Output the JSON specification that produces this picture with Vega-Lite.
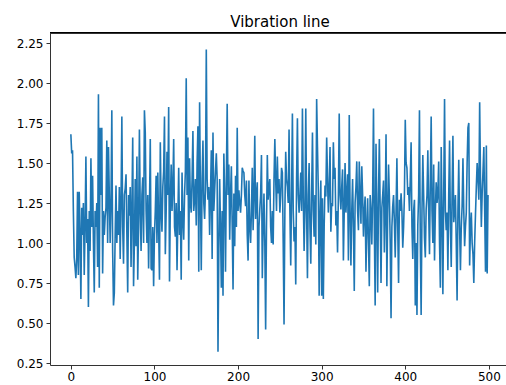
{
  "$schema": "https://vega.github.io/schema/vega-lite/v6.json",
  "width": 456,
  "height": 332,
  "autosize": {"type": "none"},
  "padding": {"left": 50, "top": 33, "right": 0, "bottom": 20},
  "background": "white",
  "view": {"stroke": null},
  "title": {"text": "Vibration line", "font": "DejaVu Sans", "fontSize": 15, "fontWeight": "normal", "color": "black", "anchor": "middle", "offset": 3, "dx": 2},
  "config": {
    "axis": {"labelFont": "DejaVu Sans", "labelFontSize": 12, "labelColor": "black", "domainColor": "#333", "tickColor": "#333", "domainWidth": 1, "tickWidth": 1, "tickSize": 4, "grid": false, "title": null}
  },
  "data": {"values": [
{"x":0,"y":1.68},{"x":1,"y":1.56},{"x":2,"y":1.58},{"x":3,"y":1.2},{"x":4,"y":0.91},{"x":5,"y":0.85},{"x":6,"y":0.78},{"x":7,"y":0.9},{"x":8,"y":1.32},{"x":9,"y":0.8},
{"x":10,"y":1.32},{"x":11,"y":1.05},{"x":12,"y":0.65},{"x":13,"y":1.22},{"x":14,"y":1.05},{"x":15,"y":1.25},{"x":16,"y":0.8},{"x":17,"y":1.1},{"x":18,"y":1.54},{"x":19,"y":1.0},
{"x":20,"y":1.15},{"x":21,"y":0.6},{"x":22,"y":1.2},{"x":23,"y":0.95},{"x":24,"y":1.53},{"x":25,"y":1.1},{"x":26,"y":1.42},{"x":27,"y":1.0},{"x":28,"y":0.69},{"x":29,"y":1.2},
{"x":30,"y":1.1},{"x":31,"y":1.25},{"x":32,"y":0.85},{"x":33,"y":1.93},{"x":34,"y":0.72},{"x":35,"y":1.72},{"x":36,"y":1.3},{"x":37,"y":1.72},{"x":38,"y":0.81},{"x":39,"y":1.2},
{"x":40,"y":1.05},{"x":41,"y":1.16},{"x":42,"y":1.22},{"x":43,"y":1.64},{"x":44,"y":1.0},{"x":45,"y":1.6},{"x":46,"y":1.3},{"x":47,"y":1.0},{"x":48,"y":1.25},{"x":49,"y":1.83},
{"x":50,"y":0.95},{"x":51,"y":0.61},{"x":52,"y":0.69},{"x":53,"y":1.05},{"x":54,"y":1.36},{"x":55,"y":1.0},{"x":56,"y":1.2},{"x":57,"y":1.05},{"x":58,"y":1.35},{"x":59,"y":0.9},
{"x":60,"y":1.25},{"x":61,"y":1.79},{"x":62,"y":1.1},{"x":63,"y":0.87},{"x":64,"y":1.3},{"x":65,"y":1.34},{"x":66,"y":1.43},{"x":67,"y":1.05},{"x":68,"y":0.69},{"x":69,"y":1.3},
{"x":70,"y":1.17},{"x":71,"y":1.35},{"x":72,"y":0.85},{"x":73,"y":1.2},{"x":74,"y":1.66},{"x":75,"y":0.73},{"x":76,"y":1.0},{"x":77,"y":1.4},{"x":78,"y":0.98},{"x":79,"y":1.54},
{"x":80,"y":0.77},{"x":81,"y":1.1},{"x":82,"y":1.71},{"x":83,"y":1.2},{"x":84,"y":0.95},{"x":85,"y":1.3},{"x":86,"y":1.41},{"x":87,"y":1.0},{"x":88,"y":1.83},{"x":89,"y":1.69},
{"x":90,"y":1.2},{"x":91,"y":1.0},{"x":92,"y":1.3},{"x":93,"y":0.84},{"x":94,"y":1.2},{"x":95,"y":1.65},{"x":96,"y":0.84},{"x":97,"y":0.83},{"x":98,"y":1.1},{"x":99,"y":0.73},
{"x":100,"y":1.05},{"x":101,"y":1.2},{"x":102,"y":1.42},{"x":103,"y":1.0},{"x":104,"y":1.44},{"x":105,"y":1.1},{"x":106,"y":0.77},{"x":107,"y":1.63},{"x":108,"y":1.2},{"x":109,"y":1.07},
{"x":110,"y":1.35},{"x":111,"y":1.45},{"x":112,"y":1.79},{"x":113,"y":0.93},{"x":114,"y":1.2},{"x":115,"y":1.57},{"x":116,"y":1.3},{"x":117,"y":1.85},{"x":118,"y":0.76},{"x":119,"y":1.25},
{"x":120,"y":1.49},{"x":121,"y":1.2},{"x":122,"y":1.35},{"x":123,"y":1.65},{"x":124,"y":1.1},{"x":125,"y":1.04},{"x":126,"y":1.25},{"x":127,"y":0.83},{"x":128,"y":1.15},{"x":129,"y":1.47},
{"x":130,"y":1.05},{"x":131,"y":1.2},{"x":132,"y":0.77},{"x":133,"y":1.44},{"x":134,"y":1.15},{"x":135,"y":1.02},{"x":136,"y":1.3},{"x":137,"y":1.45},{"x":138,"y":2.03},{"x":139,"y":1.3},
{"x":140,"y":1.66},{"x":141,"y":0.89},{"x":142,"y":1.53},{"x":143,"y":1.25},{"x":144,"y":1.19},{"x":145,"y":1.4},{"x":146,"y":1.7},{"x":147,"y":1.2},{"x":148,"y":1.27},{"x":149,"y":1.4},
{"x":150,"y":1.11},{"x":151,"y":1.5},{"x":152,"y":1.73},{"x":153,"y":0.82},{"x":154,"y":1.88},{"x":155,"y":1.3},{"x":156,"y":0.83},{"x":157,"y":1.4},{"x":158,"y":1.64},{"x":159,"y":1.25},
{"x":160,"y":1.15},{"x":161,"y":1.33},{"x":162,"y":2.21},{"x":163,"y":1.4},{"x":164,"y":1.27},{"x":165,"y":1.35},{"x":166,"y":1.05},{"x":167,"y":1.3},{"x":168,"y":1.58},{"x":169,"y":0.9},
{"x":170,"y":1.69},{"x":171,"y":1.2},{"x":172,"y":1.33},{"x":173,"y":1.45},{"x":174,"y":1.56},{"x":175,"y":1.4},{"x":176,"y":0.32},{"x":177,"y":0.95},{"x":178,"y":1.4},{"x":179,"y":1.1},
{"x":180,"y":0.72},{"x":181,"y":1.2},{"x":182,"y":0.67},{"x":183,"y":1.56},{"x":184,"y":1.3},{"x":185,"y":0.82},{"x":186,"y":1.4},{"x":187,"y":1.87},{"x":188,"y":1.3},{"x":189,"y":1.49},
{"x":190,"y":1.02},{"x":191,"y":1.3},{"x":192,"y":1.48},{"x":193,"y":1.1},{"x":194,"y":0.71},{"x":195,"y":1.31},{"x":196,"y":0.98},{"x":197,"y":1.42},{"x":198,"y":1.1},{"x":199,"y":1.72},
{"x":200,"y":1.2},{"x":201,"y":1.33},{"x":202,"y":1.25},{"x":203,"y":1.19},{"x":204,"y":1.3},{"x":205,"y":1.47},{"x":206,"y":1.45},{"x":207,"y":1.44},{"x":208,"y":1.3},{"x":209,"y":1.23},
{"x":210,"y":1.39},{"x":211,"y":1.05},{"x":212,"y":0.89},{"x":213,"y":1.39},{"x":214,"y":1.1},{"x":215,"y":1.0},{"x":216,"y":1.2},{"x":217,"y":1.47},{"x":218,"y":1.08},{"x":219,"y":1.3},
{"x":220,"y":1.67},{"x":221,"y":1.15},{"x":222,"y":1.3},{"x":223,"y":1.38},{"x":224,"y":0.4},{"x":225,"y":1.1},{"x":226,"y":1.21},{"x":227,"y":1.3},{"x":228,"y":1.55},{"x":229,"y":0.78},
{"x":230,"y":1.1},{"x":231,"y":1.31},{"x":232,"y":1.0},{"x":233,"y":0.46},{"x":234,"y":1.1},{"x":235,"y":1.55},{"x":236,"y":1.27},{"x":237,"y":1.35},{"x":238,"y":1.4},{"x":239,"y":1.1},
{"x":240,"y":1.0},{"x":241,"y":1.2},{"x":242,"y":0.99},{"x":243,"y":1.4},{"x":244,"y":1.65},{"x":245,"y":1.4},{"x":246,"y":1.2},{"x":247,"y":1.54},{"x":248,"y":1.31},{"x":249,"y":1.4},
{"x":250,"y":1.19},{"x":251,"y":1.3},{"x":252,"y":1.47},{"x":253,"y":1.44},{"x":254,"y":1.0},{"x":255,"y":0.49},{"x":256,"y":1.2},{"x":257,"y":1.57},{"x":258,"y":1.4},{"x":259,"y":1.35},
{"x":260,"y":1.25},{"x":261,"y":1.71},{"x":262,"y":1.2},{"x":263,"y":0.86},{"x":264,"y":1.3},{"x":265,"y":1.81},{"x":266,"y":1.2},{"x":267,"y":1.01},{"x":268,"y":1.1},{"x":269,"y":0.74},
{"x":270,"y":1.4},{"x":271,"y":1.78},{"x":272,"y":1.3},{"x":273,"y":1.19},{"x":274,"y":1.3},{"x":275,"y":1.44},{"x":276,"y":1.2},{"x":277,"y":1.84},{"x":278,"y":1.3},{"x":279,"y":0.95},
{"x":280,"y":1.2},{"x":281,"y":1.84},{"x":282,"y":1.2},{"x":283,"y":0.78},{"x":284,"y":1.3},{"x":285,"y":1.5},{"x":286,"y":1.1},{"x":287,"y":0.87},{"x":288,"y":1.3},{"x":289,"y":1.69},
{"x":290,"y":1.2},{"x":291,"y":1.04},{"x":292,"y":1.3},{"x":293,"y":0.99},{"x":294,"y":1.9},{"x":295,"y":1.6},{"x":296,"y":1.33},{"x":297,"y":0.67},{"x":298,"y":1.17},{"x":299,"y":1.39},
{"x":300,"y":0.67},{"x":301,"y":1.28},{"x":302,"y":0.65},{"x":303,"y":1.1},{"x":304,"y":1.36},{"x":305,"y":1.29},{"x":306,"y":1.66},{"x":307,"y":1.4},{"x":308,"y":1.19},{"x":309,"y":1.35},
{"x":310,"y":1.6},{"x":311,"y":1.07},{"x":312,"y":1.25},{"x":313,"y":1.23},{"x":314,"y":1.63},{"x":315,"y":1.4},{"x":316,"y":1.47},{"x":317,"y":1.11},{"x":318,"y":1.2},{"x":319,"y":0.94},
{"x":320,"y":1.3},{"x":321,"y":1.81},{"x":322,"y":1.3},{"x":323,"y":1.21},{"x":324,"y":1.35},{"x":325,"y":1.46},{"x":326,"y":0.89},{"x":327,"y":1.2},{"x":328,"y":1.5},{"x":329,"y":1.19},
{"x":330,"y":1.3},{"x":331,"y":1.43},{"x":332,"y":0.89},{"x":333,"y":1.8},{"x":334,"y":1.2},{"x":335,"y":0.86},{"x":336,"y":1.2},{"x":337,"y":1.4},{"x":338,"y":1.1},{"x":339,"y":0.7},
{"x":340,"y":1.25},{"x":341,"y":1.35},{"x":342,"y":1.51},{"x":343,"y":1.2},{"x":344,"y":1.08},{"x":345,"y":1.51},{"x":346,"y":1.3},{"x":347,"y":1.12},{"x":348,"y":1.48},{"x":349,"y":1.3},
{"x":350,"y":1.04},{"x":351,"y":1.2},{"x":352,"y":1.29},{"x":353,"y":0.82},{"x":354,"y":1.1},{"x":355,"y":1.28},{"x":356,"y":1.0},{"x":357,"y":0.73},{"x":358,"y":1.3},{"x":359,"y":1.2},
{"x":360,"y":0.99},{"x":361,"y":1.3},{"x":362,"y":1.84},{"x":363,"y":1.1},{"x":364,"y":0.61},{"x":365,"y":1.62},{"x":366,"y":1.2},{"x":367,"y":0.69},{"x":368,"y":1.3},{"x":369,"y":1.65},
{"x":370,"y":1.2},{"x":371,"y":0.75},{"x":372,"y":1.22},{"x":373,"y":1.3},{"x":374,"y":1.39},{"x":375,"y":0.94},{"x":376,"y":1.2},{"x":377,"y":1.68},{"x":378,"y":0.73},{"x":379,"y":1.2},
{"x":380,"y":1.49},{"x":381,"y":1.29},{"x":382,"y":1.0},{"x":383,"y":0.53},{"x":384,"y":1.1},{"x":385,"y":1.23},{"x":386,"y":1.3},{"x":387,"y":1.13},{"x":388,"y":0.91},{"x":389,"y":1.2},
{"x":390,"y":1.53},{"x":391,"y":1.1},{"x":392,"y":0.75},{"x":393,"y":1.27},{"x":394,"y":1.2},{"x":395,"y":1.31},{"x":396,"y":1.2},{"x":397,"y":0.97},{"x":398,"y":1.1},{"x":399,"y":1.3},
{"x":400,"y":1.77},{"x":401,"y":1.5},{"x":402,"y":1.47},{"x":403,"y":1.3},{"x":404,"y":1.35},{"x":405,"y":1.2},{"x":406,"y":1.4},{"x":407,"y":1.63},{"x":408,"y":1.1},{"x":409,"y":0.9},
{"x":410,"y":1.2},{"x":411,"y":1.27},{"x":412,"y":0.61},{"x":413,"y":1.0},{"x":414,"y":0.55},{"x":415,"y":1.11},{"x":416,"y":1.3},{"x":417,"y":1.83},{"x":418,"y":1.0},{"x":419,"y":0.55},
{"x":420,"y":1.2},{"x":421,"y":1.55},{"x":422,"y":1.3},{"x":423,"y":1.03},{"x":424,"y":0.91},{"x":425,"y":1.21},{"x":426,"y":1.3},{"x":427,"y":1.58},{"x":428,"y":1.2},{"x":429,"y":0.93},
{"x":430,"y":1.4},{"x":431,"y":1.79},{"x":432,"y":1.2},{"x":433,"y":1.0},{"x":434,"y":1.49},{"x":435,"y":0.89},{"x":436,"y":1.2},{"x":437,"y":1.38},{"x":438,"y":1.25},{"x":439,"y":1.31},
{"x":440,"y":1.51},{"x":441,"y":1.0},{"x":442,"y":0.72},{"x":443,"y":1.6},{"x":444,"y":1.2},{"x":445,"y":0.68},{"x":446,"y":1.3},{"x":447,"y":1.9},{"x":448,"y":1.2},{"x":449,"y":1.08},
{"x":450,"y":1.19},{"x":451,"y":0.83},{"x":452,"y":1.3},{"x":453,"y":1.64},{"x":454,"y":1.1},{"x":455,"y":0.85},{"x":456,"y":1.3},{"x":457,"y":1.67},{"x":458,"y":1.13},{"x":459,"y":1.2},
{"x":460,"y":1.3},{"x":461,"y":1.0},{"x":462,"y":0.64},{"x":463,"y":1.2},{"x":464,"y":1.52},{"x":465,"y":1.1},{"x":466,"y":0.83},{"x":467,"y":1.1},{"x":468,"y":1.23},{"x":469,"y":1.53},
{"x":470,"y":1.2},{"x":471,"y":0.98},{"x":472,"y":1.1},{"x":473,"y":1.19},{"x":474,"y":1.5},{"x":475,"y":1.72},{"x":476,"y":1.75},{"x":477,"y":0.86},{"x":478,"y":1.1},{"x":479,"y":1.19},
{"x":480,"y":1.0},{"x":481,"y":0.93},{"x":482,"y":0.75},{"x":483,"y":1.0},{"x":484,"y":1.18},{"x":485,"y":1.35},{"x":486,"y":1.5},{"x":487,"y":1.4},{"x":488,"y":1.27},{"x":489,"y":1.88},
{"x":490,"y":1.4},{"x":491,"y":1.1},{"x":492,"y":1.31},{"x":493,"y":1.45},{"x":494,"y":1.6},{"x":495,"y":1.2},{"x":496,"y":0.82},{"x":497,"y":1.61},{"x":498,"y":0.81},{"x":499,"y":1.3}
  ]},
  "layer": [
    {
      "mark": {"type": "line", "color": "#1f77b4", "strokeWidth": 1.6, "clip": true},
      "encoding": {
        "x": {"field": "x", "type": "quantitative", "scale": {"domain": [-24.95, 520.5], "nice": false, "zero": false},
              "axis": {"values": [0, 100, 200, 300, 400, 500], "format": "d", "labelPadding": 2}},
        "y": {"field": "y", "type": "quantitative", "scale": {"domain": [0.2375, 2.3125], "nice": false, "zero": false},
              "axis": {"values": [0.25, 0.5, 0.75, 1.0, 1.25, 1.5, 1.75, 2.0, 2.25], "format": ".2f", "labelPadding": 3}}
      }
    },
    {
      "mark": {"type": "rule", "color": "#333", "strokeWidth": 0.8},
      "encoding": {"y": {"datum": 2.3094}}
    }
  ]
}
